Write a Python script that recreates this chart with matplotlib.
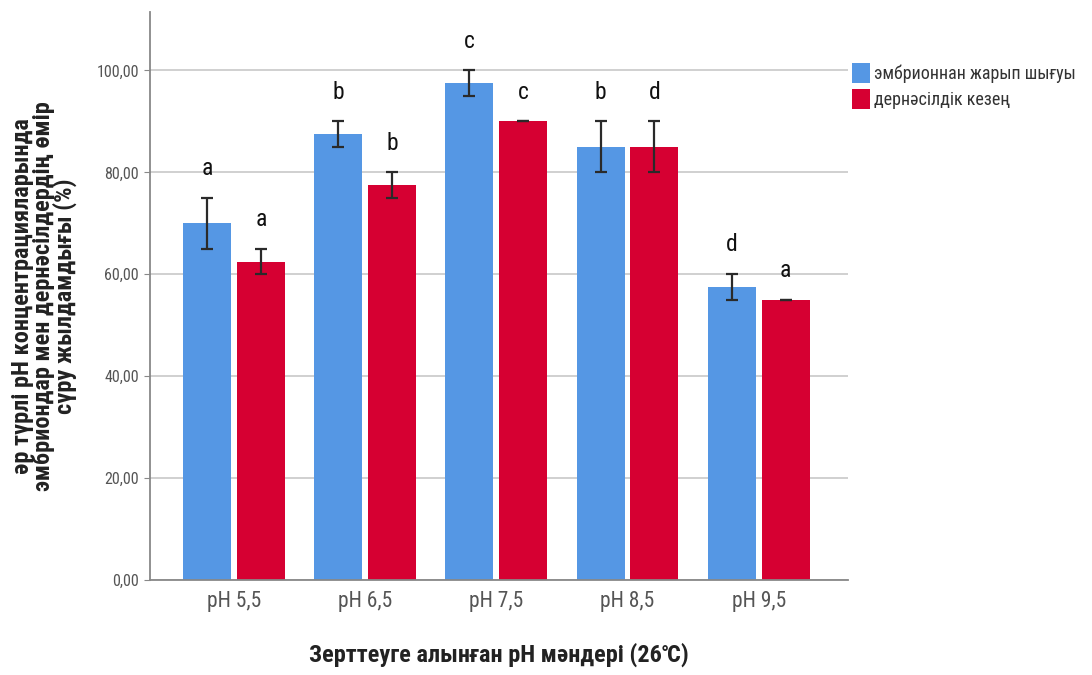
import matplotlib.pyplot as plt
from matplotlib import font_manager
import numpy as np

# prefer a narrow sans if one is installed
names = {f.name for f in font_manager.fontManager.ttflist}
narrow = None
for cand in ['Liberation Sans Narrow', 'DejaVu Sans Condensed', 'Roboto Condensed', 'Open Sans Condensed']:
    if cand in names:
        narrow = cand
        break
if narrow:
    plt.rcParams['font.family'] = [narrow, 'Liberation Sans', 'DejaVu Sans']
else:
    plt.rcParams['font.family'] = ['Liberation Sans', 'DejaVu Sans']

# data
categories = ['pH 5,5', 'pH 6,5', 'pH 7,5', 'pH 8,5', 'pH 9,5']
hatch_vals = [70.0, 87.5, 97.5, 85.0, 57.5]      # эмбрионнан жарып шығуы
hatch_err = [5.0, 2.5, 2.5, 5.0, 2.5]
larva_vals = [62.5, 77.5, 90.0, 85.0, 55.0]      # дернәсілдік кезең
larva_err = [2.5, 2.5, 0.0, 5.0, 0.0]
hatch_letters = ['a', 'b', 'c', 'b', 'd']
larva_letters = ['a', 'b', 'c', 'd', 'a']
yticks = [0, 20, 40, 60, 80, 100]

BLUE = '#5597e4'
RED = '#d60032'
k = 1.0 if narrow else 0.85   # shrink if only a wide face is available

fig = plt.figure(figsize=(10.92, 6.75), dpi=100)
ax = fig.add_axes([0.1374, 0.1407, 0.639, 0.841])

x = np.arange(len(categories))
w = 0.366
off = 0.205

ax.bar(x - off, hatch_vals, w, color=BLUE, label='эмбрионнан жарып шығуы', zorder=2)
ax.bar(x + off, larva_vals, w, color=RED, label='дернәсілдік кезең', zorder=2)

ekw = dict(fmt='none', ecolor='#2a2a2a', elinewidth=1.6, capsize=4.5, capthick=1.6, zorder=3)
ax.errorbar(x - off, hatch_vals, yerr=hatch_err, **ekw)
ax.errorbar(x + off, larva_vals, yerr=larva_err, **ekw)

for i in range(len(categories)):
    ax.text(x[i] - off, hatch_vals[i] + hatch_err[i] + 3.5, hatch_letters[i],
            ha='center', va='bottom', fontsize=17 * k, color='#111111')
    ax.text(x[i] + off, larva_vals[i] + larva_err[i] + 3.5, larva_letters[i],
            ha='center', va='bottom', fontsize=17 * k, color='#111111')

ax.set_xlim(-0.64, 4.68)
ax.set_ylim(0, 111.4)
ax.set_yticks(yticks)
ax.set_yticklabels(['%d,00' % v for v in yticks], fontsize=11.5 * k, color='#555555')
ax.set_xticks(x)
ax.set_xticklabels(categories, fontsize=15.5 * k, color='#555555')
ax.tick_params(axis='x', length=0, pad=8)
ax.tick_params(axis='y', length=4, color='#888888', pad=4)

ax.yaxis.grid(True, color='#c8c8c8', linewidth=1.2, zorder=0)
ax.set_axisbelow(True)
for s in ['top', 'right']:
    ax.spines[s].set_visible(False)
ax.spines['left'].set_color('#888888')
ax.spines['bottom'].set_color('#888888')
ax.spines['left'].set_linewidth(1.3)
ax.spines['bottom'].set_linewidth(1.3)

ax.set_xlabel('Зерттеуге алынған pH мәндері (26℃)', fontsize=17.5 * k, fontweight='bold',
              color='#222222', labelpad=22)
ax.set_ylabel('әр түрлі pH концентрацияларында\nэмбриондар мен дернәсілдердің өмір\nсүру жылдамдығы (%)',
              fontsize=17.5 * k, fontweight='bold', color='#222222', linespacing=0.85)
ax.yaxis.set_label_coords(-0.105, 0.5)

leg = fig.legend(loc='upper left', bbox_to_anchor=(0.774, 0.917), frameon=False,
                 fontsize=13 * k, handlelength=0.95, handleheight=1.3, handletextpad=0.25,
                 labelspacing=0.35, borderaxespad=0)
for t in leg.get_texts():
    t.set_color('#333333')

fig.savefig('out.png', dpi=100)
